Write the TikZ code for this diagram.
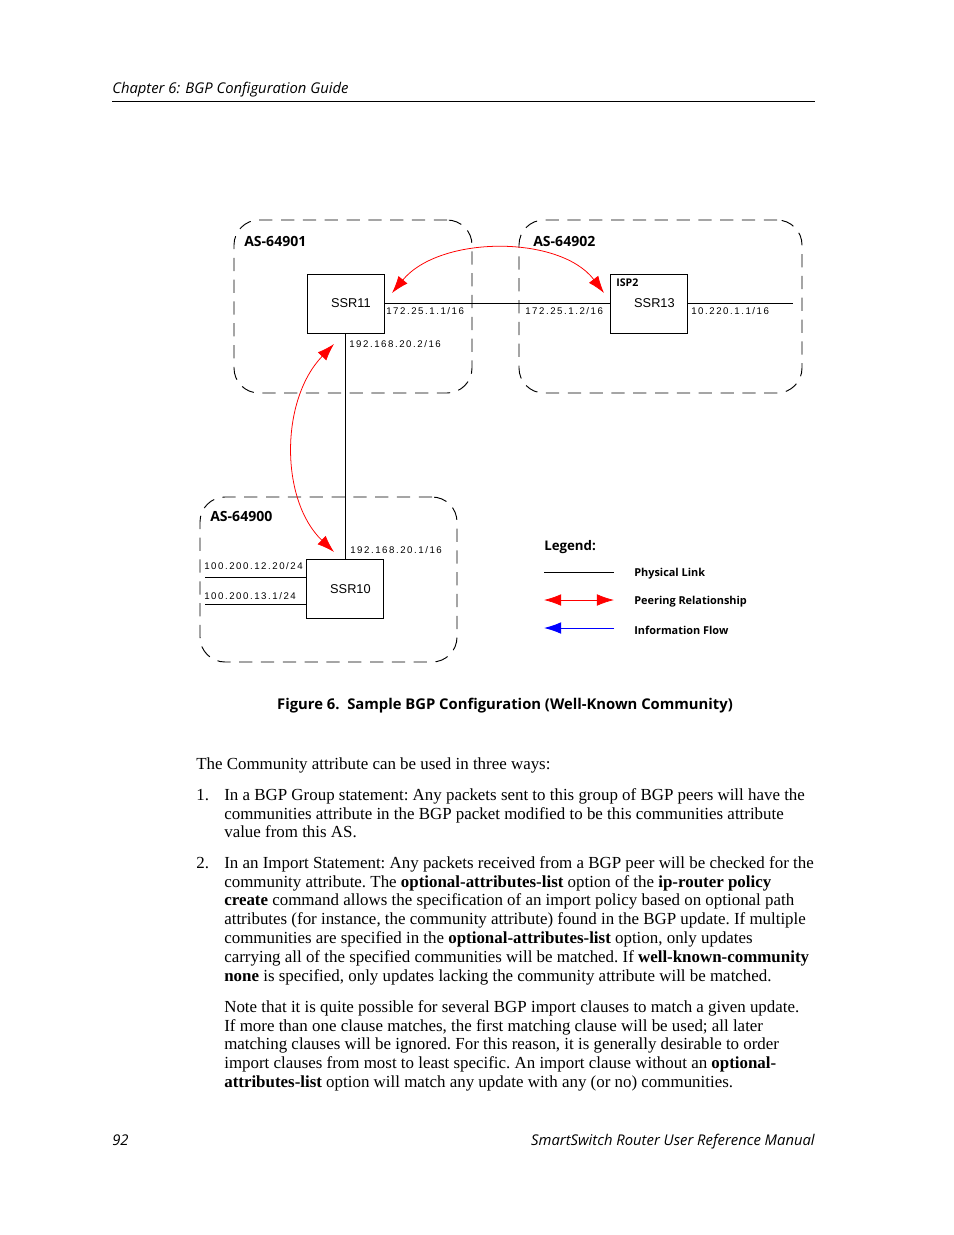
\documentclass[tikz,border=0pt]{standalone}
\usepackage{fontspec}
\setmainfont{Liberation Serif}
\newfontfamily\frutiger{Open Sans}
\newfontfamily\helv{Liberation Sans}
\newfontfamily\helvwide[LetterSpace=16]{Liberation Sans}
\usetikzlibrary{arrows.meta}

\newcommand\px{0.6415pt}

\tikzset{
  asbox/.style={draw, dash pattern=on 8.5pt off 5.5pt, rounded corners=16pt, line width=0.6pt, inner sep=0pt},
  router/.style={draw, line width=0.6pt, inner sep=0pt, minimum width=77*\px, minimum height=59*\px,
    font=\helv\fontsize{8.2}{10}\selectfont, execute at begin node=\hspace*{7pt}},
  link/.style={line width=0.55pt},
  aslabel/.style={font=\frutiger\bfseries\fontsize{9}{10}\selectfont, anchor=west, inner sep=0pt},
  iplabel/.style={font=\helvwide\fontsize{6.2}{7}\selectfont, anchor=west, inner sep=0pt},
  peer/.style={red, line width=0.5pt, {Latex[length=11pt,width=7.5pt]}-{Latex[length=11pt,width=7.5pt]}},
  legendtext/.style={font=\frutiger\bfseries\fontsize{7}{8}\selectfont, anchor=west, inner sep=0pt},
  pagetext/.style={font=\frutiger\itshape\fontsize{9.5}{11}\selectfont, inner sep=0pt},
  body/.style={font=\fontsize{10.85}{12.06}\selectfont\frenchspacing, align=left, anchor=north west, inner sep=0pt},
}

\begin{document}
\begin{tikzpicture}[x=\px,y=-\px]
  \fill[white] (0,0) rectangle (954,1235);
  \useasboundingbox (0,0) rectangle (954,1235);

  % running head
  \node[pagetext, anchor=base west] (head) at (112,93) {Chapter 6: BGP Configuration Guide};
  \coordinate (rulea) at (112,101); \coordinate (ruleb) at (815,101);
  \draw[link] (rulea) -- (ruleb);

  % autonomous systems
  \node[asbox, minimum width=238*\px, minimum height=173*\px] (as64901) at (353,306.5) {};
  \node[asbox, minimum width=283*\px, minimum height=173*\px] (as64902) at (660.5,306.5) {};
  \node[asbox, minimum width=257*\px, minimum height=165*\px] (as64900) at (328.5,579.5) {};
  \node[aslabel] at (244,241) {AS-64901};
  \node[aslabel] at (533,241) {AS-64902};
  \node[aslabel] at (210,516) {AS-64900};

  % routers
  \node[router] (ssr11) at (345.5,303.5) {SSR11};
  \node[router] (ssr13) at (649,303.5) {SSR13};
  \node[router] (ssr10) at (345,589) {SSR10};
  \node[aslabel, font=\frutiger\bfseries\fontsize{6.8}{8}\selectfont] at (616,283) {ISP2};

  % physical links
  \coordinate (isp) at (793,303);
  \coordinate (lan12) at (205,577);
  \coordinate (lan13) at (205,604);
  \draw[link] (ssr11.east |- 0,303) -- (ssr13.west |- 0,303);
  \draw[link] (ssr13.east |- isp) -- (isp);
  \draw[link] (ssr11.south -| 345,0) -- (ssr10.north -| 345,0);
  \draw[link] (lan12) -- (lan12 -| ssr10.west);
  \draw[link] (lan13) -- (lan13 -| ssr10.west);

  \node[iplabel] at (386,311) {172.25.1.1/16};
  \node[iplabel] at (525,311) {172.25.1.2/16};
  \node[iplabel] at (691,311) {10.220.1.1/16};
  \node[iplabel] at (349,344) {192.168.20.2/16};
  \node[iplabel] at (350,550) {192.168.20.1/16};
  \node[iplabel] at (204,566) {100.200.12.20/24};
  \node[iplabel] at (204,596) {100.200.13.1/24};

  % peering sessions
  \coordinate (pe11a) at (392,293);
  \coordinate (pe13) at (604,293);
  \coordinate (pe11b) at (334,344);
  \coordinate (pe10) at (334,552);
  \draw[peer] (pe11a) .. controls (440,235) and (560,235) .. (pe13);
  \draw[peer] (pe11b) .. controls (280,400) and (280,500) .. (pe10);

  % legend
  \node[legendtext, font=\frutiger\bfseries\fontsize{8.5}{10}\selectfont] (legend) at (544,547) {Legend:};
  \coordinate (lg1a) at (544,572); \coordinate (lg1b) at (614,572);
  \coordinate (lg2a) at (544,600); \coordinate (lg2b) at (614,600);
  \coordinate (lg3a) at (544,628); \coordinate (lg3b) at (614,628);
  \draw[link] (lg1a) -- (lg1b);
  \draw[peer] (lg2a) -- (lg2b);
  \draw[blue, line width=0.6pt, -{Latex[length=11pt,width=7.5pt]}] (lg3b) -- (lg3a);
  \node[legendtext] at (634,574) {Physical Link};
  \node[legendtext] at (634,602) {Peering Relationship};
  \node[legendtext] at (634,630) {Information Flow};

  % caption
  \node[font=\frutiger\bfseries\fontsize{9.5}{11}\selectfont, inner sep=0pt] (caption) at (505,706)
    {Figure 6.\ \ Sample BGP Configuration (Well-Known Community)};

  % body text
  \node[body] (intro) at (196,755.8) {\strut The Community attribute can be used in three ways:};
  \node[body] (num1) at (196,786.8) {\strut 1.};
  \node[body] (item1) at (224,786.8) {\strut In a BGP Group statement: Any packets sent to this group of BGP peers will have the\\
    communities attribute in the BGP packet modified to be this communities attribute\\
    value from this AS.};
  \node[body] (num2) at (196,854.8) {\strut 2.};
  \node[body] (item2) at (224,854.8) {\strut In an Import Statement: Any packets received from a BGP peer will be checked for the\\
    community attribute. The \textbf{optional-attributes-list} option of the \textbf{ip-router policy}\\
    \textbf{create} command allows the specification of an import policy based on optional path\\
    attributes (for instance, the community attribute) found in the BGP update. If multiple\\
    communities are specified in the \textbf{optional-attributes-list} option, only updates\\
    carrying all of the specified communities will be matched. If \textbf{well-known-community}\\
    \textbf{none} is specified, only updates lacking the community attribute will be matched.};
  \node[body] (note) at (224,998.8) {\strut Note that it is quite possible for several BGP import clauses to match a given update.\\
    If more than one clause matches, the first matching clause will be used; all later\\
    matching clauses will be ignored. For this reason, it is generally desirable to order\\
    import clauses from most to least specific. An import clause without an \textbf{optional-}\\
    \textbf{attributes-list} option will match any update with any (or no) communities.};

  % running foot
  \node[pagetext, anchor=base west] (folio) at (112,1145) {92};
  \node[pagetext, anchor=base east] (manual) at (815,1145) {SmartSwitch Router User Reference Manual};
\end{tikzpicture}
\end{document}
